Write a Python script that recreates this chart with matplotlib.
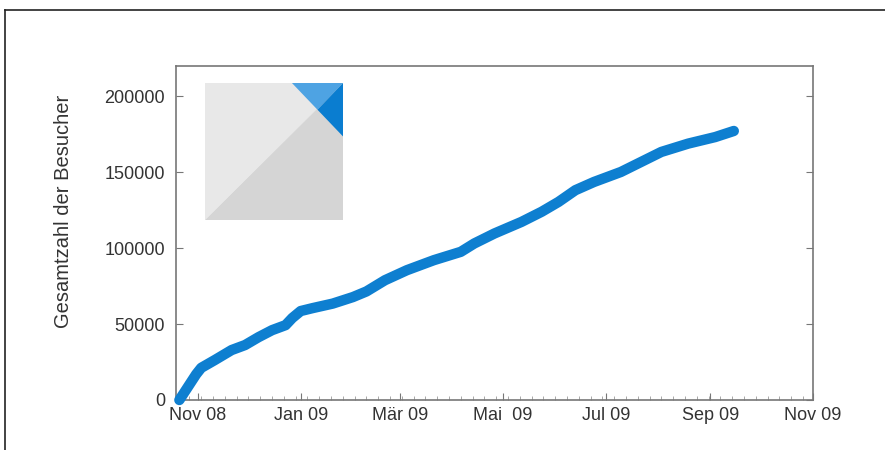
import matplotlib
matplotlib.use("Agg")
import matplotlib.pyplot as plt
import matplotlib.dates as mdates
from matplotlib.patches import Polygon
from matplotlib.lines import Line2D
import pandas as pd

plt.rcParams['font.family'] = ['Liberation Sans', 'DejaVu Sans']

# cumulative visitors
dates = ["2008-10-21", "2008-10-31", "2008-11-03", "2008-11-11", "2008-11-21",
         "2008-11-29", "2008-12-07", "2008-12-15", "2008-12-23", "2008-12-27",
         "2009-01-01", "2009-01-08", "2009-01-20", "2009-02-01", "2009-02-09",
         "2009-02-20", "2009-03-05", "2009-03-21", "2009-04-06", "2009-04-14",
         "2009-04-26", "2009-05-12", "2009-05-24", "2009-06-03", "2009-06-13",
         "2009-06-24", "2009-07-10", "2009-07-22", "2009-08-03", "2009-08-19",
         "2009-09-04", "2009-09-15"]
visitors = [0, 17000, 21200, 26300, 32900,
            36200, 41400, 46000, 49300, 54000,
            58600, 60500, 63500, 67800, 71500,
            78900, 85500, 92100, 97600, 103100,
            109700, 117300, 124000, 130500, 138200,
            143600, 150200, 156800, 163400, 168900,
            173200, 177200]

tick_dates = ["2008-11-01", "2009-01-01", "2009-03-01", "2009-05-01",
              "2009-07-01", "2009-09-01", "2009-11-01"]
tick_labels = ["Nov 08", "Jan 09", "Mär 09", "Mai  09", "Jul 09", "Sep 09", "Nov 09"]
y_ticks = [0, 50000, 100000, 150000, 200000]

x = pd.to_datetime(dates)

fig = plt.figure(figsize=(8.85, 4.5), dpi=100)
ax = fig.add_axes([176/885, 50/450, 637/885, 334/450])

ax.plot(x, visitors, color="#0e7fd0", lw=7.5, solid_capstyle="round",
        solid_joinstyle="round", clip_on=False, zorder=3)

ax.set_xlim(pd.Timestamp("2008-10-19"), pd.Timestamp("2009-11-01"))
ax.set_ylim(0, 220000)

ax.set_xticks(pd.to_datetime(tick_dates))
ax.set_xticklabels(tick_labels)
ax.xaxis.set_minor_locator(mdates.WeekdayLocator(byweekday=mdates.MO))
ax.set_yticks(y_ticks)
ax.set_yticklabels([str(v) for v in y_ticks])

for s in ax.spines.values():
    s.set_color("#777777")
    s.set_linewidth(1.2)

ax.tick_params(axis="both", which="major", direction="in", length=5,
               color="#777777", labelcolor="#333333", labelsize=13)
ax.tick_params(axis="y", right=True, pad=8)
ax.tick_params(axis="x", pad=5)
ax.tick_params(axis="x", which="minor", direction="in", length=3, color="#999999")

ax.set_ylabel("Gesamtzahl der Besucher", fontsize=14.5, color="#333333")
ax.yaxis.set_label_coords(-0.162, 0.566)

# logo in the upper left
lg = fig.add_axes([205/885, 230/450, 138/885, 137/450])
lg.set_xlim(0, 1)
lg.set_ylim(0, 1)
lg.axis("off")
lg.add_patch(Polygon([(0, 0), (0, 1), (1, 1)], closed=True, color="#e8e8e8", lw=0))
lg.add_patch(Polygon([(0, 0), (1, 1), (1, 0)], closed=True, color="#d5d5d5", lw=0))
lg.add_patch(Polygon([(0.63, 1), (1, 1), (0.815, 0.805)], closed=True, color="#4ea3e3", lw=0))
lg.add_patch(Polygon([(1, 1), (1, 0.61), (0.815, 0.805)], closed=True, color="#0a7dd0", lw=0))

# page frame
fig.add_artist(Line2D([5/885, 1], [1 - 10/450, 1 - 10/450], color="#222222", lw=1.2))
fig.add_artist(Line2D([5/885, 5/885], [0, 1 - 10/450], color="#222222", lw=1.2))

fig.savefig("out.png", dpi=100)
